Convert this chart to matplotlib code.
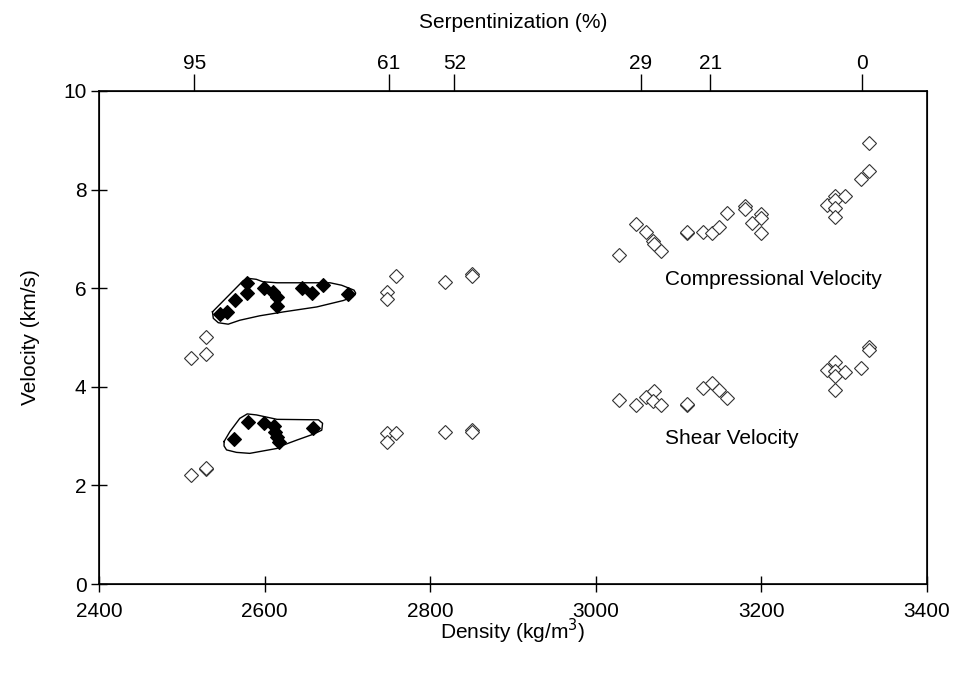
import matplotlib
matplotlib.use("Agg")
import matplotlib.pyplot as plt

plt.rcParams['font.family'] = ['Liberation Sans', 'DejaVu Sans']

# open symbols: compressional velocity
vp_open_rho = [2511, 2529, 2529, 2748, 2748, 2759, 2818, 2850, 2850,
               3028, 3049, 3060, 3069, 3070, 3079, 3110, 3110, 3130, 3140,
               3149, 3159, 3180, 3180, 3189, 3200, 3200, 3200,
               3279, 3289, 3289, 3289, 3289, 3301, 3320, 3330, 3330]
vp_open_v = [4.58, 4.66, 5.02, 5.93, 5.79, 6.25, 6.13, 6.28, 6.25,
             6.67, 7.30, 7.13, 6.96, 6.90, 6.75, 7.11, 7.13, 7.13, 7.11,
             7.24, 7.53, 7.67, 7.60, 7.33, 7.50, 7.42, 7.11,
             7.69, 7.87, 7.79, 7.62, 7.44, 7.86, 8.22, 8.38, 8.95]

# open symbols: shear velocity
vs_open_rho = [2511, 2529, 2529, 2748, 2759, 2748, 2818, 2850, 2850,
               3028, 3049, 3060, 3070, 3069, 3079, 3110, 3110, 3130, 3140,
               3149, 3159, 3279, 3289, 3289, 3289, 3289, 3301, 3320, 3330, 3330]
vs_open_v = [2.21, 2.33, 2.36, 3.07, 3.06, 2.89, 3.09, 3.12, 3.09,
             3.73, 3.64, 3.79, 3.92, 3.72, 3.63, 3.64, 3.66, 3.98, 4.07,
             3.93, 3.77, 4.35, 4.51, 4.33, 4.22, 3.94, 4.31, 4.38, 4.81, 4.75]

# filled symbols
vp_fill_rho = [2546, 2554, 2564, 2579, 2579, 2599, 2610, 2615, 2615,
               2645, 2657, 2671, 2701]
vp_fill_v = [5.48, 5.52, 5.76, 6.10, 5.91, 6.00, 5.93, 5.83, 5.64,
             6.00, 5.91, 6.06, 5.88]
vs_fill_rho = [2563, 2580, 2599, 2611, 2613, 2615, 2617, 2658]
vs_fill_v = [2.95, 3.29, 3.26, 3.20, 3.09, 2.99, 2.89, 3.17]

# outlines round the filled groups
vp_env_rho = [2537, 2574, 2580, 2590, 2598, 2615, 2679, 2693, 2708, 2710,
              2706, 2695, 2663, 2623, 2594, 2570, 2556, 2544, 2538, 2537]
vp_env_v = [5.52, 6.15, 6.20, 6.18, 6.13, 6.11, 6.11, 6.06, 5.96, 5.90,
            5.82, 5.75, 5.62, 5.52, 5.44, 5.35, 5.27, 5.30, 5.39, 5.52]
vs_env_rho = [2551, 2558, 2570, 2579, 2590, 2615, 2665, 2670, 2669, 2659,
              2639, 2623, 2615, 2582, 2566, 2554, 2551, 2551]
vs_env_v = [2.89, 3.09, 3.36, 3.45, 3.43, 3.34, 3.33, 3.26, 3.12, 3.04,
            2.92, 2.82, 2.75, 2.65, 2.67, 2.72, 2.80, 2.89]

# serpentinization scale on top
serp_rho = [2515, 2750, 2829, 3054, 3138, 3322]
serp_labels = ['95', '61', '52', '29', '21', '0']

fig = plt.figure(figsize=(9.55, 6.75), dpi=100)
ax = fig.add_axes([0.1037, 0.1348, 0.867, 0.7304])

ax.plot(vp_env_rho, vp_env_v, color='black', lw=1.0, zorder=2)
ax.plot(vs_env_rho, vs_env_v, color='black', lw=1.0, zorder=2)

ax.plot(vp_open_rho, vp_open_v, 'D', ms=6.8, mfc='white', mec='#333333', mew=0.8, ls='none', zorder=3)
ax.plot(vs_open_rho, vs_open_v, 'D', ms=6.8, mfc='white', mec='#333333', mew=0.8, ls='none', zorder=3)
ax.plot(vp_fill_rho, vp_fill_v, 'D', ms=7.0, mfc='black', mec='black', mew=0.8, ls='none', zorder=4)
ax.plot(vs_fill_rho, vs_fill_v, 'D', ms=7.0, mfc='black', mec='black', mew=0.8, ls='none', zorder=4)

ax.set_xlim(2400, 3400)
ax.set_ylim(0, 10)
ax.set_xticks([2400, 2600, 2800, 3000, 3200, 3400])
ax.set_yticks([0, 2, 4, 6, 8, 10])
ax.tick_params(direction='inout', length=12, width=1, labelsize=15, pad=7)
ax.tick_params(axis='y', pad=3)
for s in ax.spines.values():
    s.set_linewidth(1.2)
ax.set_xlabel('Density (kg/m$^3$)', fontsize=15, labelpad=-3)
ax.set_ylabel('Velocity (km/s)', fontsize=15, labelpad=17)

ax.text(3214, 6.17, 'Compressional Velocity', fontsize=15, ha='center', va='center')
ax.text(3164, 2.96, 'Shear Velocity', fontsize=15, ha='center', va='center')

top = ax.twiny()
top.set_xlim(ax.get_xlim())
top.set_xticks(serp_rho)
top.set_xticklabels(serp_labels)
top.tick_params(direction='out', length=12, width=1, labelsize=15, pad=1)
top.set_xlabel('Serpentinization (%)', fontsize=15, labelpad=19)

fig.savefig('out.png', dpi=100)
